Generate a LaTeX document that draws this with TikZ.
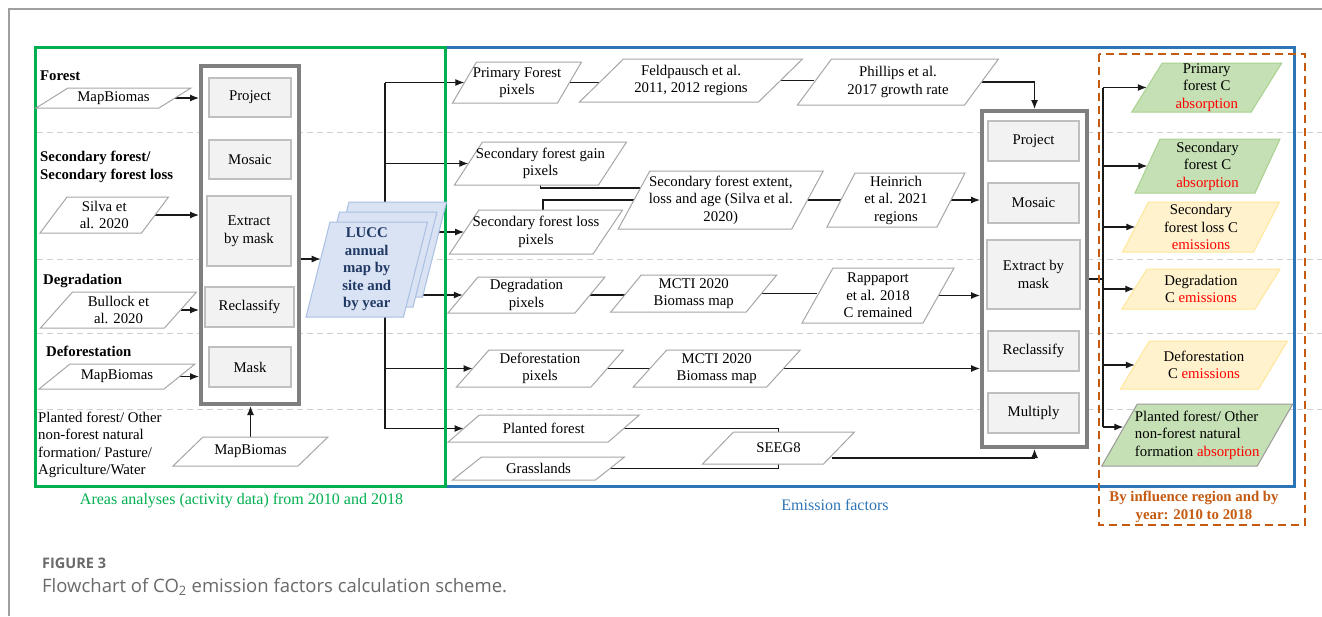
\documentclass[tikz,border=0pt]{standalone}
\usepackage{fontspec}
\setmainfont{Liberation Serif}
\newfontfamily\capfont{Open Sans}
\usetikzlibrary{arrows.meta}
\pgfdeclarelayer{back}
\pgfdeclarelayer{bg}
\pgfsetlayers{back,bg,main}
\definecolor{framegreen}{HTML}{00B050}
\definecolor{frameblue}{HTML}{2E75B6}
\definecolor{frameorange}{HTML}{C55A11}
\definecolor{inpborder}{HTML}{A6A6A6}
\definecolor{gfill}{HTML}{C5E0B4}
\definecolor{gborder}{HTML}{A9D18E}
\definecolor{yfill}{HTML}{FFF2CC}
\definecolor{yborder}{HTML}{FFE699}
\definecolor{lfill}{HTML}{DAE3F3}
\definecolor{lborder}{HTML}{A9BFE3}
\definecolor{lucctxt}{HTML}{1F3864}
\definecolor{ifill}{HTML}{F2F2F2}
\definecolor{iborder}{HTML}{BFBFBF}
\definecolor{bigborder}{HTML}{7F7F7F}
\definecolor{sepgray}{HTML}{D0D0D0}
\definecolor{capgray}{HTML}{6A6A6A}
\definecolor{outred}{HTML}{FF0000}
\newcommand\fs{\fontsize{14.8pt}{17.5pt}\selectfont}
\newcommand\fl{\fontsize{16pt}{18pt}\selectfont}
\newcommand\pgm[9][]{%
  \path[#3] ({#4-#6/2+#8/2},{#5-#7/2}) -- ({#4+#6/2+#8/2},{#5-#7/2}) -- ({#4+#6/2-#8/2},{#5+#7/2}) -- ({#4-#6/2-#8/2},{#5+#7/2}) -- cycle;
  \node[txt, minimum width=#6, minimum height=#7, #1] (#2) at (#4,#5) {#9};}
\begin{document}
\begin{tikzpicture}[x=1pt,y=-1pt,
  txt/.style={font=\fs, align=center, inner sep=0pt},
  inp/.style={draw=inpborder, fill=white, line width=1pt},
  gout/.style={draw=gborder, fill=gfill, line width=1pt},
  gout2/.style={draw=gray!80, fill=gfill, line width=1pt},
  yout/.style={draw=yborder, fill=yfill, line width=1pt},
  lucc/.style={draw=lborder, fill=lfill, line width=1pt},
  ibox/.style={draw=iborder, fill=ifill, line width=1.3pt, font=\fs, align=center, inner sep=0pt},
  bigbox/.style={draw=bigborder, fill=white, line width=4pt, inner sep=0pt},
  ln/.style={line width=1.2pt, draw=black!90},
  arr/.style={ln, -{Latex[length=9pt,width=7pt]}},
  sep/.style={draw=sepgray, line width=1pt, dash pattern=on 6pt off 4pt},
  head/.style={font=\fs\bfseries, anchor=west, align=left, inner sep=0pt},
]
\useasboundingbox (0,0) rectangle (1322,616);
\begin{pgfonlayer}{back}
\fill[white] (0,0) rectangle (1322,616);
\end{pgfonlayer}

% outer page frame
\draw[draw=gray!75, line width=2pt] (9,616) -- (9,9) -- (1322,9);

% frames
\draw[draw=frameblue, line width=3pt] (445,47) rectangle (1294,486);
\draw[draw=framegreen, line width=3pt] (35,47) rectangle (445,486);
\draw[draw=frameorange, line width=2.5pt, dash pattern=on 8pt off 5pt] (1099,54) rectangle (1305,525);

% left headings
\node[head] (hForest) at (40,76) {Forest};
\node[head] (hSec) at (40,167) {Secondary forest/\\Secondary forest loss};
\node[head] (hDeg) at (43,281) {Degradation};
\node[head] (hDef) at (46,351) {Deforestation};
\node[head, font=\fs] (hOther) at (38,445) {Planted forest/ Other\\non-forest natural\\formation/ Pasture/\\Agriculture/Water};

% left inputs
\pgm{mbA}{inp}{113.5}{98}{123}{20}{32}{MapBiomas}
\pgm{silva}{inp}{104.25}{215}{101.5}{36}{27}{Silva et\\al. 2020}
\pgm{bull}{inp}{118.5}{310}{124}{36}{32}{Bullock et\\al. 2020}
\pgm{mbB}{inp}{117}{376.5}{125}{25}{31}{MapBiomas}
\pgm{mbC}{inp}{250.5}{451.5}{125}{29}{30}{MapBiomas}

% left processing column
\node[bigbox, minimum width=98, minimum height=338] (lbox) at (250,235) {};
\node[ibox, minimum width=82, minimum height=39] (lp) at (250,97.5) {Project};
\node[ibox, minimum width=82, minimum height=39] (lmo) at (250,159.5) {Mosaic};
\node[ibox, minimum width=84, minimum height=70] (lex) at (249,231) {Extract\\by mask};
\node[ibox, minimum width=89, minimum height=40] (lre) at (249.5,307) {Reclassify};
\node[ibox, minimum width=82, minimum height=40] (lma) at (250,367) {Mask};

% LUCC stack
\pgm{luccC}{lucc}{385.75}{249.5}{97.5}{95}{24}{}
\pgm{luccB}{lucc}{376.25}{259.5}{97.5}{95}{24}{}
\pgm[font=\fs\bfseries, text=lucctxt]{luccA}{lucc}{366.75}{269.5}{97.5}{95}{24}{LUCC\\annual\\map by\\site and\\by year}

% middle inputs
\pgm{pfp}{inp}{517}{82.5}{105}{41}{24}{Primary Forest\\pixels}
\pgm{feld}{inp}{691}{80.5}{179}{43}{44}{Feldpausch et al.\\2011, 2012 regions}
\pgm{phil}{inp}{898}{82}{167}{46}{34}{Phillips et al.\\2017 growth rate}
\pgm{sfg}{inp}{540.5}{163.5}{144}{43}{28}{Secondary forest gain\\pixels}
\pgm{sfl}{inp}{536}{232}{143.5}{44}{29.5}{Secondary forest loss\\pixels}
\pgm{sfe}{inp}{720.75}{200}{173.5}{58}{31.5}{Secondary forest extent,\\loss and age (Silva et al.\\2020)}
\pgm{hein}{inp}{896}{200}{110}{54}{28}{Heinrich\\et al. 2021\\regions}
\pgm{degp}{inp}{526.5}{295}{127}{36}{30}{Degradation\\pixels}
\pgm{mctiA}{inp}{693.75}{293.5}{135.5}{37}{30.5}{MCTI 2020\\Biomass map}
\pgm{rapp}{inp}{878}{295.5}{121}{55}{31}{Rappaport\\et al. 2018\\C remained}
\pgm{defp}{inp}{540}{368.5}{134.5}{37}{32.5}{Deforestation\\pixels}
\pgm{mctiB}{inp}{716.75}{368.5}{133.5}{37}{33.5}{MCTI 2020\\Biomass map}
\pgm{plf}{inp}{543.75}{428.5}{160}{27}{31}{Planted forest}
\pgm{grass}{inp}{538.5}{468.5}{143}{23}{29}{Grasslands}
\pgm{seeg}{inp}{778.5}{448}{121}{32}{31}{SEEG8}

% right processing column
\node[bigbox, minimum width=105, minimum height=336] (rbox) at (1034.5,279) {};
\node[ibox, minimum width=91, minimum height=40] (rp) at (1033.5,141) {Project};
\node[ibox, minimum width=91, minimum height=40] (rmo) at (1033.5,203) {Mosaic};
\node[ibox, minimum width=93, minimum height=69] (rex) at (1033.5,274.5) {Extract by\\mask};
\node[ibox, minimum width=91, minimum height=40] (rre) at (1033.5,351) {Reclassify};
\node[ibox, minimum width=91, minimum height=40] (rmu) at (1033.5,413) {Multiply};

% outputs
\pgm{oA}{gout}{1206.75}{87.5}{119.5}{49}{30.5}{Primary\\forest C\\\textcolor{outred}{absorption}}
\pgm{oB}{gout}{1207.5}{166}{120}{54}{25}{Secondary\\forest C\\\textcolor{outred}{absorption}}
\pgm{oC}{yout}{1201}{227}{131}{50}{26}{Secondary\\forest loss C\\\textcolor{outred}{emissions}}
\pgm{oD}{yout}{1201}{289}{133}{40}{25}{Degradation\\C \textcolor{outred}{emissions}}
\pgm{oE}{yout}{1204}{365}{138}{48}{29}{Deforestation\\C \textcolor{outred}{emissions}}
\pgm[align=left]{oF}{gout2}{1197.25}{435}{155.5}{62}{35.5}{Planted forest/ Other\\non-forest natural\\formation \textcolor{outred}{absorption}}

% labels
\node[font=\fl, text=framegreen] (lblA) at (241.5,501) {Areas analyses (activity data) from 2010 and 2018};
\node[font=\fl, text=frameblue] (lblB) at (835,505) {Emission factors};
\node[font=\fs\bfseries, text=frameorange, align=center] (lblC) at (1194,507) {By influence region and by\\year: 2010 to 2018};

% caption
\node[anchor=base west, inner sep=0pt, font=\capfont\bfseries\fontsize{14.5pt}{16pt}\selectfont, text=capgray] (figlbl) at (42,568) {FIGURE 3};
\node[anchor=base west, inner sep=0pt, font=\capfont\fontsize{18.5pt}{22pt}\selectfont, text=capgray] (figcap) at (42,592) {Flowchart of CO\textsubscript{2} emission factors calculation scheme.};

% coordinates
\coordinate (tk) at (385,0);
\coordinate (rk) at (1103,0);
\coordinate (luccin) at (320.7,259);
\coordinate (seegout) at ([shift={(-7.5,10)}]seeg.east);
\coordinate (sfein) at ([shift={(6.6,-12)}]sfe.west);
\coordinate (oFin) at ([shift={(4,-8)}]oF.west);

\begin{pgfonlayer}{bg}
  % separators
  \foreach \yy in {132,259,333,409} \draw[sep] (37,\yy) -- (1322,\yy);
  % left inputs
  \draw[arr] (mbA.east) -- (mbA.east -| lbox.west);
  \draw[arr] (silva.east) -- (silva.east -| lbox.west);
  \draw[arr] (bull.east) -- (bull.east -| lbox.west);
  \draw[arr] (mbB.east) -- (mbB.east -| lbox.west);
  \draw[arr] (mbC.north) -- (mbC.north |- lbox.south);
  % into LUCC
  \draw[arr] (luccin -| lbox.east) -- (luccin);
  % trunk
  \draw[ln] (tk |- pfp.west) -- (tk |- plf.west);
  \draw[arr] (tk |- pfp.west) -- (pfp.west);
  \draw[arr] (tk |- sfg.west) -- (sfg.west);
  \draw[arr] (luccC.east |- sfl.west) -- (sfl.west);
  \draw[arr] (luccA.east |- degp.west) -- (degp.west);
  \draw[arr] (tk |- defp.west) -- (defp.west);
  \draw[arr] (tk |- plf.west) -- (plf.west);
  % middle chains
  \draw[ln] (pfp.east) -- (pfp.east -| feld.west);
  \draw[ln] (feld.east) -- (feld.east -| phil.west);
  \draw[arr] (phil.east) -| (rbox.north);
  \draw[ln] (sfg.south) |- (sfein);
  \draw[ln] ([xshift=7pt]sfl.north) |- (sfe.west);
  \draw[ln] (sfe.east) -- (sfe.east -| hein.west);
  \draw[arr] (hein.east) -- (hein.east -| rbox.west);
  \draw[ln] (degp.east) -- (degp.east -| mctiA.west);
  \draw[ln] (mctiA.east) -- (mctiA.east -| rapp.west);
  \draw[arr] (rapp.east) -- (rapp.east -| rbox.west);
  \draw[ln] (defp.east) -- (defp.east -| mctiB.west);
  \draw[arr] (mctiB.east) -- (mctiB.east -| rbox.west);
  \draw[ln] (plf.east) -| (seeg.north);
  \draw[ln] (grass.east) -| (seeg.south);
  \draw[arr] (seegout) -| (rbox.south);
  % outputs
  \draw[ln] (rbox.east) -- (rbox.east -| rk);
  \draw[ln] (rk |- oA.west) -- (rk |- oFin);
  \draw[arr] (rk |- oA.west) -- (oA.west);
  \draw[arr] (rk |- oB.west) -- (oB.west);
  \draw[arr] (rk |- oC.west) -- (oC.west);
  \draw[arr] (rk |- oD.west) -- (oD.west);
  \draw[arr] (rk |- oE.west) -- (oE.west);
  \draw[arr] (rk |- oFin) -- (oFin);
\end{pgfonlayer}
\end{tikzpicture}
\end{document}
